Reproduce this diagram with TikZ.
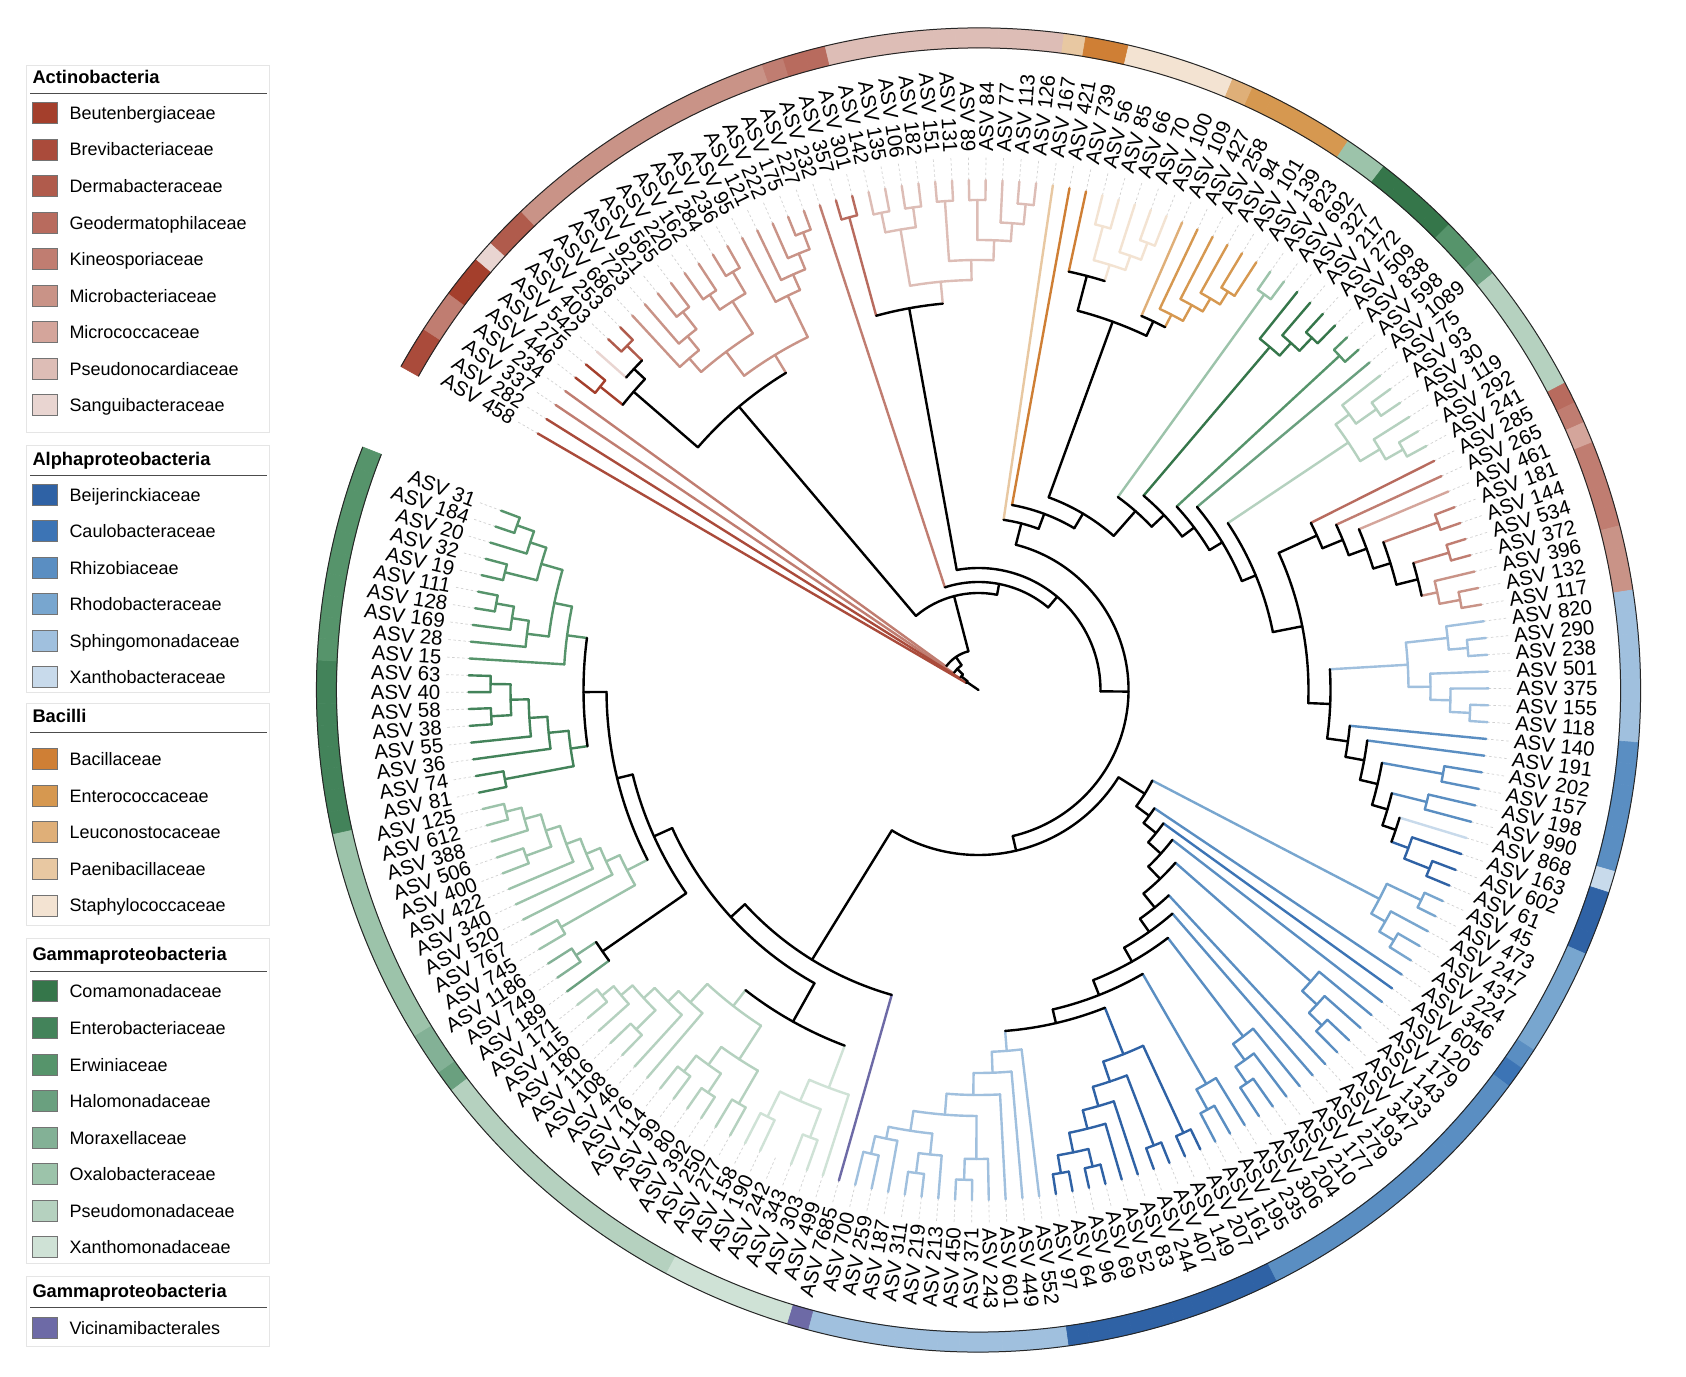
\documentclass[tikz,border=0pt]{standalone}
\usepackage{fontspec}
\setmainfont{Liberation Sans}

% Actinobacteria
\definecolor{Beu}{HTML}{A43F2C}
\definecolor{Bre}{HTML}{AA4B3B}
\definecolor{Der}{HTML}{B05B4C}
\definecolor{Geo}{HTML}{B86B5E}
\definecolor{Kin}{HTML}{C07D71}
\definecolor{Mib}{HTML}{C99387}
\definecolor{Mic}{HTML}{D4A59B}
\definecolor{Pnc}{HTML}{DDBDB6}
\definecolor{San}{HTML}{E9D5D1}
% Alphaproteobacteria
\definecolor{Bei}{HTML}{2F62A5}
\definecolor{Cau}{HTML}{3C74B5}
\definecolor{Rhi}{HTML}{5A8EC2}
\definecolor{Rho}{HTML}{78A6CF}
\definecolor{Sph}{HTML}{A0C0DE}
\definecolor{Xnb}{HTML}{C8DAEB}
% Bacilli
\definecolor{Bac}{HTML}{CF7F35}
\definecolor{Ent}{HTML}{D69850}
\definecolor{Leu}{HTML}{DFAF78}
\definecolor{Pae}{HTML}{E8C8A2}
\definecolor{Sta}{HTML}{F3E3D2}
% Gammaproteobacteria
\definecolor{Com}{HTML}{35764A}
\definecolor{Enb}{HTML}{43835A}
\definecolor{Erw}{HTML}{56946B}
\definecolor{Hal}{HTML}{6AA07F}
\definecolor{Mor}{HTML}{83B196}
\definecolor{Oxa}{HTML}{9CC3AA}
\definecolor{Pse}{HTML}{B5D1BF}
\definecolor{Xnm}{HTML}{CFE2D6}
\definecolor{Vic}{HTML}{6D6AA6}

\tikzset{
  tree/.style={line width=2.4pt, line cap=round, line join=round},
  conn/.style={black!18, line width=0.7pt, dash pattern=on 2.5pt off 2.5pt},
  ringline/.style={black!85, line width=1pt},
  lab/.style={font=\fontsize{20.5}{24}\selectfont, inner sep=0pt},
  legbox/.style={draw=black!10, line width=0.8pt},
  legrule/.style={black!70, line width=0.9pt},
  legtitle/.style={font=\bfseries\fontsize{18.3}{21}\selectfont, anchor=base west, inner sep=0pt},
  legtext/.style={font=\fontsize{18}{21}\selectfont, anchor=base west, inner sep=0pt},
  swatch/.style={draw=black!55, line width=0.8pt}
}

\newcommand\lfstart{149.8}
\newcommand\lfstep{1.894}

% one tip: ring cell, dashed guide and label
\newcommand{\leafitem}[3]{%
  \pgfmathsetmacro\tipang{\lfstart-(#1-1)*\lfstep}%
  \expandafter\xdef\csname ta#1\endcsname{\tipang}%
  \expandafter\xdef\csname tc#1\endcsname{#3}%
  \pgfmathsetmacro\segA{\tipang+\lfstep/2}%
  \pgfmathsetmacro\segB{\tipang-\lfstep/2}%
  \filldraw[fill=#3, draw=#3, line width=0.6pt] (\segA:642pt) arc[start angle=\segA, end angle=\segB, radius=642pt]
    -- (\segB:662pt) arc[start angle=\segB, end angle=\segA, radius=662pt] -- cycle;
  \coordinate (n#1) at (\tipang:510pt);
  \draw[conn] (n#1) -- (\tipang:535pt);
  \pgfmathtruncatemacro\isright{and(\tipang>-90,\tipang<90)}%
  \ifnum\isright=1
    \node[lab, rotate=\tipang, anchor=west] (l#1) at (\tipang:538pt) {ASV #2};%
  \else
    \pgfmathsetmacro\labrot{\tipang+180}%
    \node[lab, rotate=\labrot, anchor=east] (l#1) at (\tipang:538pt) {ASV #2};%
  \fi
}

% internal node: name, radius, colour, child, child
\newcommand{\clade}[5]{%
  \edef\chA{\csname ta#4\endcsname}\edef\chB{\csname ta#5\endcsname}%
  \edef\colA{\csname tc#4\endcsname}\edef\colB{\csname tc#5\endcsname}%
  \pgfmathsetmacro\midang{(\chA+\chB)/2}%
  \expandafter\xdef\csname ta#1\endcsname{\midang}%
  \expandafter\xdef\csname tc#1\endcsname{#3}%
  \coordinate (n#1) at (\midang:#2pt);
  \draw[tree, color=\colA] (\chA:#2pt) -- (n#4);
  \draw[tree, color=\colB] (\chB:#2pt) -- (n#5);
  \draw[tree, color=#3] (\chA:#2pt) arc[start angle=\chA, end angle=\chB, radius=#2pt];
}

\newcommand{\legitem}[4]{%
  \filldraw[swatch, fill=#3] (32,#2-10.5) rectangle (57,#2+10.5);
  \node[legtext] (#1) at (69.3,#2-6.5) {#4};
}

\begin{document}
\begin{tikzpicture}[x=1pt,y=1pt]
\useasboundingbox (0,0) rectangle (1686,1376);
\fill[white] (0,0) rectangle (1686,1376);

% legend
\draw[legbox] (26,943.5) rectangle (269.3,1311);
\node[legtitle] (tact) at (32.3,1292.3) {Actinobacteria};
\draw[legrule] (30,1283) -- (267,1283);
\foreach \k/\fc/\tx in {0/Beu/Beutenbergiaceae, 1/Bre/Brevibacteriaceae, 2/Der/Dermabacteraceae,
  3/Geo/Geodermatophilaceae, 4/Kin/Kineosporiaceae, 5/Mib/Microbacteriaceae, 6/Mic/Micrococcaceae,
  7/Pnc/Pseudonocardiaceae, 8/San/Sanguibacteraceae}
  {\legitem{lg\fc}{1263.1-36.56*\k}{\fc}{\tx}}

\draw[legbox] (26,684) rectangle (269.3,931);
\node[legtitle] (talp) at (32.3,910.5) {Alphaproteobacteria};
\draw[legrule] (30,901) -- (267,901);
\foreach \k/\fc/\tx in {0/Bei/Beijerinckiaceae, 1/Cau/Caulobacteraceae, 2/Rhi/Rhizobiaceae,
  3/Rho/Rhodobacteraceae, 4/Sph/Sphingomonadaceae, 5/Xnb/Xanthobacteraceae}
  {\legitem{lg\fc}{881.4-36.56*\k}{\fc}{\tx}}

\draw[legbox] (26,451) rectangle (269.3,673);
\node[legtitle] (tbac) at (32.3,653.5) {Bacilli};
\draw[legrule] (30,643.3) -- (267,643.3);
\foreach \k/\fc/\tx in {0/Bac/Bacillaceae, 1/Ent/Enterococcaceae, 2/Leu/Leuconostocaceae,
  3/Pae/Paenibacillaceae, 4/Sta/Staphylococcaceae}
  {\legitem{lg\fc}{616.8-36.56*\k}{\fc}{\tx}}

\draw[legbox] (26,112.5) rectangle (269.3,437.5);
\node[legtitle] (tgam) at (32.3,415.9) {Gammaproteobacteria};
\draw[legrule] (30,404.8) -- (267,404.8);
\foreach \k/\fc/\tx in {0/Com/Comamonadaceae, 1/Enb/Enterobacteriaceae, 2/Erw/Erwiniaceae,
  3/Hal/Halomonadaceae, 4/Mor/Moraxellaceae, 5/Oxa/Oxalobacteraceae, 6/Pse/Pseudomonadaceae,
  7/Xnm/Xanthomonadaceae}
  {\legitem{lg\fc}{384.6-36.56*\k}{\fc}{\tx}}

\draw[legbox] (26,30) rectangle (269.3,100);
\node[legtitle] (tvic) at (32.3,78.2) {Gammaproteobacteria};
\draw[legrule] (30,68.4) -- (267,68.4);
\legitem{lgVic}{48}{Vic}{Vicinamibacterales}

% circular tree
\begin{scope}[shift={(978.5,686)}]
\foreach \ix/\nm/\fc in {
  1/458/Bre, 2/282/Bre, 3/337/Kin, 4/234/Kin, 5/446/Beu, 6/275/Beu, 7/542/San, 8/403/Der, 9/253/Der,
  10/686/Mib, 11/723/Mib, 12/921/Mib, 13/565/Mib, 14/220/Mib, 15/162/Mib, 16/284/Mib, 17/236/Mib,
  18/95/Mib, 19/121/Mib, 20/222/Mib, 21/175/Mib, 22/227/Mib, 23/232/Kin, 24/357/Geo, 25/301/Geo,
  26/142/Pnc, 27/135/Pnc, 28/106/Pnc, 29/182/Pnc, 30/151/Pnc, 31/131/Pnc, 32/89/Pnc, 33/84/Pnc,
  34/77/Pnc, 35/113/Pnc, 36/126/Pnc,
  37/167/Pae, 38/421/Bac, 39/739/Bac, 40/56/Sta, 41/85/Sta, 42/66/Sta, 43/70/Sta, 44/100/Sta,
  45/109/Leu, 46/427/Ent, 47/258/Ent, 48/94/Ent, 49/101/Ent, 50/139/Ent,
  51/823/Oxa, 52/692/Oxa, 53/327/Com, 54/217/Com, 55/272/Com, 56/509/Com, 57/838/Erw, 58/598/Erw,
  59/1089/Hal, 60/75/Pse, 61/93/Pse, 62/30/Pse, 63/119/Pse, 64/292/Pse, 65/241/Pse,
  66/285/Geo, 67/265/Kin, 68/461/Mic, 69/181/Kin, 70/144/Kin, 71/534/Kin, 72/372/Kin,
  73/396/Mib, 74/132/Mib, 75/117/Mib,
  76/820/Sph, 77/290/Sph, 78/238/Sph, 79/501/Sph, 80/375/Sph, 81/155/Sph, 82/118/Sph,
  83/140/Rhi, 84/191/Rhi, 85/202/Rhi, 86/157/Rhi, 87/198/Rhi, 88/990/Rhi, 89/868/Xnb,
  90/163/Bei, 91/602/Bei, 92/61/Bei,
  93/45/Rho, 94/473/Rho, 95/247/Rho, 96/437/Rho, 97/224/Rho, 98/346/Rhi, 99/605/Cau,
  100/120/Rhi, 101/179/Rhi, 102/143/Rhi, 103/133/Rhi, 104/347/Rhi, 105/193/Rhi, 106/279/Rhi,
  107/177/Rhi, 108/210/Rhi, 109/204/Rhi, 110/306/Rhi, 111/235/Rhi, 112/195/Rhi, 113/161/Rhi,
  114/207/Bei, 115/149/Bei, 116/407/Bei, 117/244/Bei, 118/83/Bei, 119/52/Bei, 120/69/Bei,
  121/96/Bei, 122/64/Bei, 123/97/Bei,
  124/552/Sph, 125/449/Sph, 126/601/Sph, 127/243/Sph, 128/371/Sph, 129/450/Sph, 130/213/Sph,
  131/219/Sph, 132/311/Sph, 133/187/Sph, 134/259/Sph, 135/700/Sph, 136/7685/Vic,
  137/499/Xnm, 138/303/Xnm, 139/343/Xnm, 140/242/Xnm, 141/190/Xnm, 142/158/Xnm,
  143/277/Pse, 144/250/Pse, 145/392/Pse, 146/80/Pse, 147/99/Pse, 148/114/Pse, 149/76/Pse,
  150/46/Pse, 151/108/Pse, 152/116/Pse, 153/180/Pse, 154/115/Pse, 155/171/Pse,
  156/189/Hal, 157/749/Mor, 158/1186/Mor,
  159/745/Oxa, 160/767/Oxa, 161/520/Oxa, 162/340/Oxa, 163/422/Oxa, 164/400/Oxa, 165/506/Oxa,
  166/388/Oxa, 167/612/Oxa, 168/125/Oxa,
  169/81/Enb, 170/74/Enb, 171/36/Enb, 172/55/Enb, 173/38/Enb, 174/58/Enb, 175/40/Enb, 176/63/Enb,
  177/15/Erw, 178/28/Erw, 179/169/Erw, 180/128/Erw, 181/111/Erw, 182/19/Erw, 183/32/Erw,
  184/20/Erw, 185/184/Erw, 186/31/Erw}
  {\leafitem{\ix}{\nm}{\fc}}

\pgfmathsetmacro\rgA{\lfstart+\lfstep/2}
\pgfmathsetmacro\rgB{\lfstart-185.5*\lfstep}
\draw[ringline] (\rgA:642pt) arc[start angle=\rgA, end angle=\rgB, radius=642pt];
\draw[ringline] (\rgA:662pt) arc[start angle=\rgA, end angle=\rgB, radius=662pt];

% actinobacteria, upper left
\clade{ca1}{485}{Beu}{5}{6}
\clade{ca2}{492}{Der}{8}{9}
\clade{ca3}{471}{black}{7}{ca2}
\clade{cA}{456}{black}{ca1}{ca3}
\clade{m1}{480}{Mib}{12}{13}
\clade{m2}{458}{Mib}{11}{m1}
\clade{m3}{440}{Mib}{10}{m2}
\clade{m4}{478}{Mib}{14}{15}
\clade{m5}{485}{Mib}{16}{17}
\clade{m6}{460}{Mib}{m4}{m5}
\clade{m7}{422}{Mib}{m3}{m6}
\clade{m8}{490}{Mib}{21}{22}
\clade{m9}{472}{Mib}{20}{m8}
\clade{m10}{455}{Mib}{19}{m9}
\clade{m11}{438}{Mib}{18}{m10}
\clade{m12}{392}{Mib}{m7}{m11}
\clade{cAA}{371}{black}{cA}{m12}
\clade{p0}{490}{Geo}{24}{25}
\clade{q1}{487}{Pnc}{26}{27}
\clade{q2}{487}{Pnc}{28}{29}
\clade{q3}{467}{Pnc}{q1}{q2}
\clade{q4}{490}{Pnc}{30}{31}
\clade{q5}{490}{Pnc}{32}{33}
\clade{q6}{488}{Pnc}{35}{36}
\clade{q7}{468}{Pnc}{34}{q6}
\clade{q8}{450}{Pnc}{q5}{q7}
\clade{q9}{430}{Pnc}{q4}{q8}
\clade{q10}{410}{Pnc}{q3}{q9}
\clade{cPG}{388}{black}{p0}{q10}

% bacilli
\clade{s1}{480}{Sta}{40}{41}
\clade{s2}{478}{Sta}{43}{44}
\clade{s3}{460}{Sta}{42}{s2}
\clade{s4}{445}{Sta}{s1}{s3}
\clade{b1}{428}{black}{39}{s4}
\clade{e1}{470}{Ent}{49}{50}
\clade{e2}{455}{Ent}{48}{e1}
\clade{e3}{440}{Ent}{47}{e2}
\clade{e4}{422}{Ent}{46}{e3}
\clade{e5}{408}{black}{45}{e4}
\clade{b2}{392}{black}{b1}{e5}

% gammaproteobacteria, upper right
\clade{o1}{488}{Oxa}{51}{52}
\clade{c1}{485}{Com}{55}{56}
\clade{c2}{467}{Com}{54}{c1}
\clade{c3}{450}{Com}{53}{c2}
\clade{w1}{492}{Erw}{57}{58}
\clade{ps1}{487}{Pse}{61}{62}
\clade{ps2}{462}{Pse}{60}{ps1}
\clade{ps3}{488}{Pse}{64}{65}
\clade{ps4}{468}{Pse}{63}{ps3}
\clade{ps5}{445}{Pse}{ps2}{ps4}

% actinobacteria, right
\clade{a1}{489}{Kin}{69}{70}
\clade{a2}{490}{Kin}{71}{72}
\clade{a3}{490}{Mib}{74}{75}
\clade{a4}{469}{Mib}{73}{a3}
\clade{a5}{453}{black}{a2}{a4}
\clade{a6}{431}{black}{a1}{a5}
\clade{a7}{413}{black}{68}{a6}
\clade{a8}{394}{black}{67}{a7}
\clade{a9}{372}{black}{66}{a8}

% alphaproteobacteria, right
\clade{sp1}{491}{Sph}{77}{78}
\clade{sp2}{472}{Sph}{76}{sp1}
\clade{sp3}{492}{Sph}{81}{82}
\clade{sp4}{472}{Sph}{80}{sp3}
\clade{sp5}{452}{Sph}{79}{sp4}
\clade{sp6}{430}{Sph}{sp2}{sp5}
\clade{r1}{472}{Rhi}{85}{86}
\clade{r2}{462}{Rhi}{87}{88}
\clade{bj1}{485}{Bei}{91}{92}
\clade{bj2}{458}{Bei}{90}{bj1}
\clade{r4}{440}{black}{89}{bj2}
\clade{r5}{426}{black}{r2}{r4}
\clade{r6}{410}{black}{r1}{r5}
\clade{r7}{392}{black}{84}{r6}
\clade{r8}{373}{black}{83}{r7}

\clade{rz2}{352}{black}{sp6}{r8}
\clade{rz1}{330}{black}{a9}{rz2}
\clade{u8}{300}{black}{ps5}{rz1}
\clade{u7}{285}{black}{59}{u8}
\clade{u6}{270}{black}{w1}{u7}
\clade{u5}{255}{black}{c3}{u6}
\clade{u4}{238}{black}{o1}{u5}
\clade{u3}{205}{black}{b2}{u4}
\clade{u2}{188}{black}{38}{u3}
\clade{u1}{172}{black}{37}{u2}

% alphaproteobacteria, lower right and bottom
\clade{rh1}{490}{Rho}{93}{94}
\clade{rh2}{485}{Rho}{96}{97}
\clade{rh3}{468}{Rho}{95}{rh2}
\clade{rh4}{452}{Rho}{rh1}{rh3}
\clade{la1}{480}{Rhi}{103}{104}
\clade{la2}{462}{Rhi}{102}{la1}
\clade{la3}{442}{Rhi}{101}{la2}
\clade{lb1}{476}{Rhi}{109}{110}
\clade{lb2}{456}{Rhi}{108}{lb1}
\clade{lb3}{436}{Rhi}{107}{lb2}
\clade{lc1}{478}{Rhi}{112}{113}
\clade{lc2}{455}{Rhi}{111}{lc1}
\clade{bb1}{490}{Bei}{122}{123}
\clade{bb2}{490}{Bei}{120}{121}
\clade{bb3}{472}{Bei}{bb2}{bb1}
\clade{bb4}{452}{Bei}{119}{bb3}
\clade{bb5}{433}{Bei}{118}{bb4}
\clade{bb6}{488}{Bei}{116}{117}
\clade{bb7}{413}{Bei}{bb6}{bb5}
\clade{bb8}{488}{Bei}{114}{115}
\clade{bb9}{392}{Bei}{bb8}{bb7}
\clade{sa}{490}{Sph}{128}{129}
\clade{sb}{469}{Sph}{127}{sa}
\clade{sc}{487}{Sph}{131}{132}
\clade{sd}{467}{Sph}{130}{sc}
\clade{se}{476}{Sph}{134}{135}
\clade{sf}{458}{Sph}{133}{se}
\clade{sg}{446}{Sph}{sd}{sf}
\clade{sh}{426}{Sph}{sb}{sg}
\clade{si}{405}{Sph}{126}{sh}
\clade{sj}{383}{Sph}{125}{si}
\clade{sk}{362}{Sph}{124}{sj}
\clade{BOT}{342}{black}{bb9}{sk}
\clade{L9}{328}{black}{lc2}{BOT}
\clade{L8}{312}{black}{lb3}{L9}
\clade{L7}{296}{black}{106}{L8}
\clade{L6}{280}{black}{105}{L7}
\clade{L5}{262}{black}{la3}{L6}
\clade{L4}{245}{black}{100}{L5}
\clade{L3}{228}{black}{99}{L4}
\clade{L2}{212}{black}{98}{L3}
\clade{L1}{196}{black}{rh4}{L2}

% gammaproteobacteria, lower left
\clade{x1}{478}{Xnm}{138}{139}
\clade{x2}{476}{Xnm}{141}{142}
\clade{x3}{448}{Xnm}{x1}{x2}
\clade{x4}{425}{Xnm}{137}{x3}
\clade{pq1}{485}{Pse}{154}{155}
\clade{pq2}{470}{Pse}{153}{pq1}
\clade{pq3}{482}{Pse}{151}{152}
\clade{pq4}{455}{Pse}{pq3}{pq2}
\clade{pq5}{440}{Pse}{150}{pq4}
\clade{pq6}{425}{Pse}{149}{pq5}
\clade{pq7}{482}{Pse}{147}{148}
\clade{pq8}{485}{Pse}{145}{146}
\clade{pq9}{462}{Pse}{pq8}{pq7}
\clade{pq10}{478}{Pse}{143}{144}
\clade{pq11}{440}{Pse}{pq10}{pq9}
\clade{pq12}{400}{Pse}{pq11}{pq6}
\clade{mh1}{482}{Mor}{157}{158}
\clade{mh2}{458}{black}{156}{mh1}
\clade{ox1}{488}{Oxa}{167}{168}
\clade{ox2}{472}{Oxa}{166}{ox1}
\clade{ox3}{482}{Oxa}{164}{165}
\clade{ox4}{455}{Oxa}{ox3}{ox2}
\clade{ox5}{440}{Oxa}{163}{ox4}
\clade{ox6}{425}{Oxa}{162}{ox5}
\clade{ox7}{410}{Oxa}{161}{ox6}
\clade{ox8}{480}{Oxa}{159}{160}
\clade{ox9}{395}{Oxa}{ox8}{ox7}
\clade{en1}{488}{Enb}{175}{176}
\clade{en2}{488}{Enb}{173}{174}
\clade{en3}{468}{Enb}{en2}{en1}
\clade{en4}{450}{Enb}{172}{en3}
\clade{en5}{432}{Enb}{171}{en4}
\clade{en6}{482}{Enb}{169}{170}
\clade{en7}{412}{Enb}{en6}{en5}
\clade{er1}{490}{Erw}{185}{186}
\clade{er2}{472}{Erw}{184}{er1}
\clade{er3}{488}{Erw}{182}{183}
\clade{er4}{455}{Erw}{er3}{er2}
\clade{er5}{490}{Erw}{180}{181}
\clade{er6}{472}{Erw}{179}{er5}
\clade{er7}{455}{Erw}{178}{er6}
\clade{er8}{433}{Erw}{er7}{er4}
\clade{er9}{415}{Erw}{177}{er8}
\clade{E}{395}{black}{en7}{er9}
\clade{F}{372}{black}{ox9}{E}
\clade{G}{356}{black}{mh2}{F}
\clade{X}{380}{black}{x4}{pq12}
\clade{W}{336}{black}{X}{G}
\clade{V}{317}{black}{136}{W}

% backbone
\clade{M}{165}{black}{L1}{V}
\clade{N7}{150}{black}{u1}{M}
\clade{N6}{122}{black}{cPG}{N7}
\clade{N5}{108}{black}{23}{N6}
\clade{N4}{97}{black}{cAA}{N5}
\clade{N3}{40}{black}{4}{N4}
\clade{N2}{30}{black}{3}{N3}
\clade{N1}{22}{black}{2}{N2}
\clade{R}{14}{black}{1}{N1}
\draw[tree] (0,0) -- (nR);
\end{scope}
\end{tikzpicture}
\end{document}
